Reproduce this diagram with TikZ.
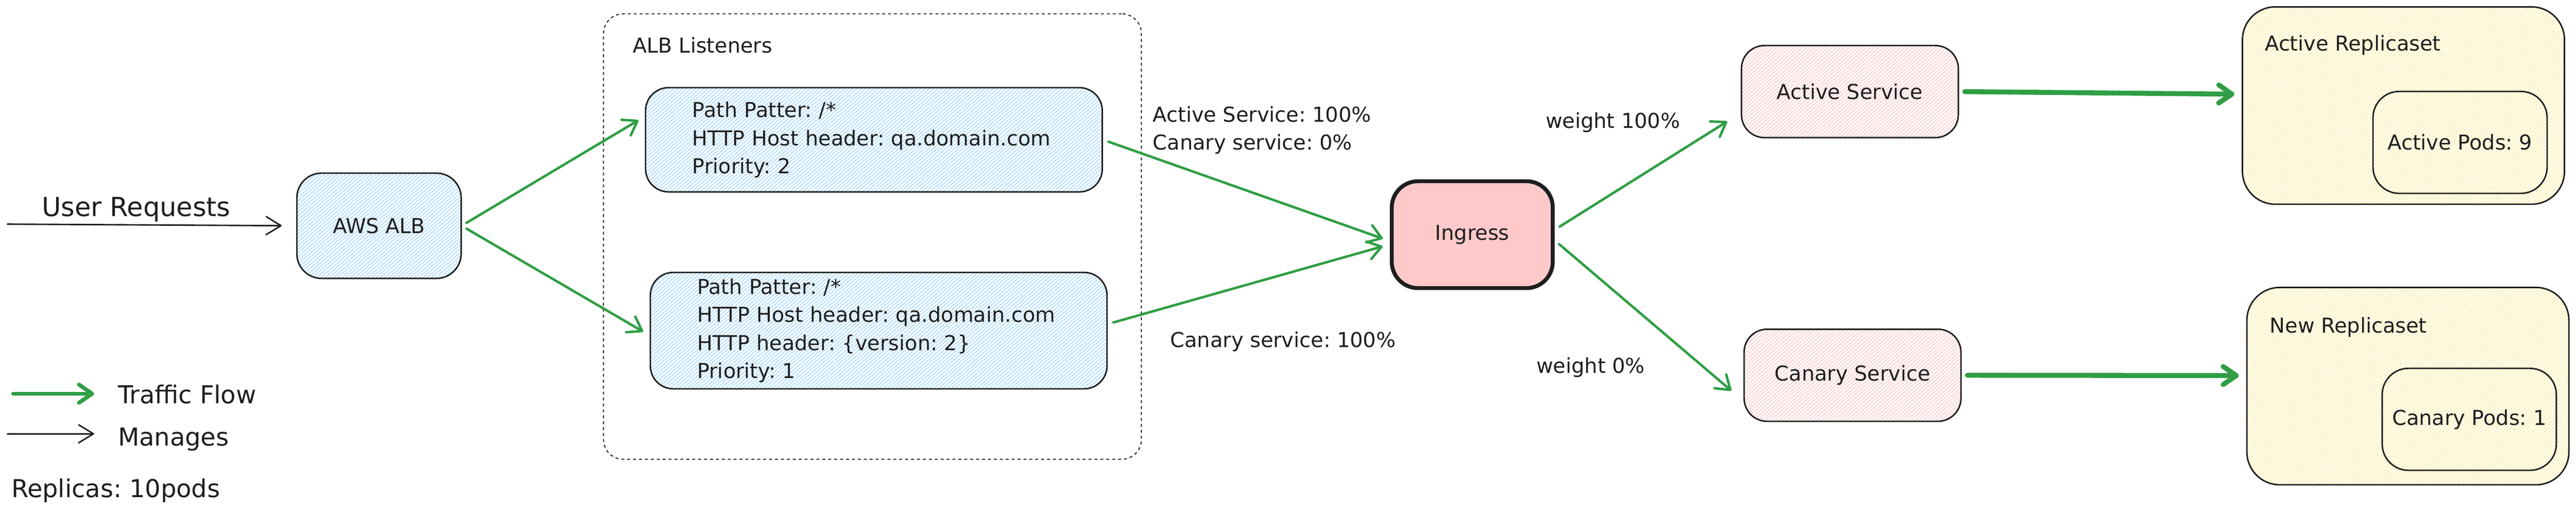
\documentclass[tikz,border=0pt]{standalone}
\usepackage{fontspec}
\setmainfont{DejaVu Sans}
\usepackage{tikz}
\usetikzlibrary{positioning, arrows.meta, patterns.meta}
\frenchspacing
\definecolor{flowgreen}{HTML}{2F9E44}
\definecolor{inkblack}{HTML}{1E1E1E}
\definecolor{hatchblue}{HTML}{A5D8FF}
\definecolor{hatchpink}{HTML}{FFC9C9}
\definecolor{hatchyellow}{HTML}{FFEC99}
\definecolor{ingressred}{HTML}{FFC9C9}
\tikzstyle{plain} = [inner sep=0pt, text=inkblack, font=\fontsize{12.5}{17}\selectfont]
\tikzstyle{legend} = [plain, font=\fontsize{15}{18}\selectfont]
\tikzstyle{big} = [plain, font=\fontsize{16}{19}\selectfont]
\tikzstyle{hatch} = [pattern={Lines[angle=41, distance=1.7pt, line width=0.5pt]}]
\tikzstyle{sketchbox} = [rectangle, draw=inkblack, line width=0.9pt, plain]
\tikzstyle{albbox} = [sketchbox, rounded corners=15pt, minimum width=100pt,
                      minimum height=64pt, hatch, pattern color=hatchblue]
\tikzstyle{listener} = [sketchbox, rounded corners=14pt, minimum width=278pt,
                        minimum height=63.4pt, text width=221pt, inner xsep=28.5pt,
                        align=left, hatch, pattern color=hatchblue]
\tikzstyle{ingressbox} = [sketchbox, rounded corners=16pt, minimum width=98pt,
                          minimum height=65pt, line width=2.4pt, fill=ingressred]
\tikzstyle{svc} = [sketchbox, rounded corners=14pt, minimum width=132pt,
                   minimum height=56pt, hatch, pattern color=hatchpink]
\tikzstyle{rset} = [sketchbox, rounded corners=20pt, minimum width=196pt,
                    minimum height=120pt, hatch, pattern color=hatchyellow]
\tikzstyle{pods} = [sketchbox, rounded corners=16pt, minimum width=106pt, minimum height=62pt]
\tikzstyle{frame} = [rectangle, draw=inkblack, line width=0.6pt, dash pattern=on 1.8pt off 1.8pt,
                     rounded corners=12pt, minimum width=327.4pt, minimum height=270.9pt]
\tikzstyle{flow} = [line width=1.5pt, draw=flowgreen, line cap=round, ->,
                    >={Straight Barb[length=8pt, width=11pt, round]},
                    shorten <=3.5pt, shorten >=4.5pt]
\tikzstyle{bigflow} = [flow, line width=3pt]
\tikzstyle{legendflow} = [flow, line width=2.4pt, shorten <=0pt]
\tikzstyle{manage} = [line width=0.9pt, draw=inkblack, line cap=round, ->,
                      >={Straight Barb[length=9pt, width=11pt, round]}]

\begin{document}
\begin{tikzpicture}[node distance=1cm]
\useasboundingbox (0,0) rectangle (1568pt,-309.25pt);
\node (alb) [albbox] at (230.7pt,-137.3pt) {AWS ALB};
\node (lst1) [listener, right of=alb, xshift=272.8pt, yshift=52.3pt] {Path Patter: /*\\HTTP Host header: qa.domain.com\\Priority: 2};
\node (lst2) [listener, minimum height=70.8pt, below of=lst1, xshift=2.9pt, yshift=-87.6pt] {Path Patter: /*\\HTTP Host header: qa.domain.com\\HTTP header: \{version: 2\}\\Priority: 1};
\node (lstframe) [frame, below of=lst1, xshift=-0.9pt, yshift=-30.4pt] {};
\node (lsttitle) [plain, anchor=west, xshift=18pt, yshift=-19.5pt] at (lstframe.north west) {ALB Listeners};
\node (ingress) [ingressbox, right of=alb, xshift=637pt, yshift=-5.4pt] {Ingress};
\node (actsvc) [svc, right of=ingress, xshift=201.4pt, yshift=87pt] {Active Service};
\node (cansvc) [svc, right of=ingress, xshift=203pt, yshift=-85.5pt] {Canary Service};
\node (actrs) [rset, right of=actsvc, xshift=308.5pt, yshift=-8.5pt] {};
\node (actrstitle) [plain, anchor=west, xshift=14pt, yshift=-23.6pt] at (actrs.north west) {Active Replicaset};
\node (actpods) [pods, right of=actrs, xshift=6pt, yshift=-22.4pt] {Active Pods: 9};
\node (newrs) [rset, right of=cansvc, xshift=309.6pt, yshift=-6.6pt] {};
\node (newrstitle) [plain, anchor=west, xshift=14.2pt, yshift=-24.7pt] at (newrs.north west) {New Replicaset};
\node (canpods) [pods, right of=newrs, xshift=8.9pt, yshift=-20.2pt] {Canary Pods: 1};

% legend
\node (tflbl) [legend, anchor=west] at (71.7pt,-239.7pt) {Traffic Flow};
\node (mglbl) [legend, anchor=west] at (71.7pt,-267.3pt) {Manages};
\node (replbl) [legend, anchor=west] at (6.7pt,-298.3pt) {Replicas: 10pods};
\coordinate (tf0) at (8pt,-239.4pt);
\coordinate (mg0) at (4.5pt,-263.8pt);
\coordinate (usr) at (4.5pt,-136.3pt);

\draw [manage, shorten >=9pt] (usr) -- node[big, pos=0.47, anchor=south, xshift=-4.3pt, yshift=1.5pt] {User Requests} (alb.west);
\draw [flow] (alb.east) -- ([yshift=14.2pt]lst1.west);
\draw [flow] (alb.east) -- ([yshift=-2.9pt]lst2.west);
\draw [flow] (lst1.east) -- node[plain, pos=0.17, anchor=south west, align=left, yshift=1pt] {Active Service: 100\%\\Canary service: 0\%} ([yshift=-3.9pt]ingress.west);
\draw [flow] ([yshift=4pt]lst2.east) -- node[plain, pos=0.2, anchor=north west, xshift=3pt, yshift=-13.7pt] {Canary service: 100\%} ([yshift=-5.9pt]ingress.west);
\draw [flow, shorten >=9.7pt] ([yshift=3pt]ingress.east) -- node[plain, pos=0.8, anchor=east, xshift=-13.5pt, yshift=8.4pt] {weight 100\%} ([yshift=-13pt]actsvc.west);
\draw [flow, shorten >=9.6pt] ([yshift=-3.5pt]ingress.east) -- node[plain, pos=0.75, anchor=east, xshift=-30.5pt, yshift=-3.9pt] {weight 0\%} ([yshift=-15.6pt]cansvc.west);
\draw [bigflow] (actsvc.east) -- ([yshift=6.9pt]actrs.west);
\draw [bigflow] (cansvc.east) -- ([yshift=6.4pt]newrs.west);
\draw [legendflow, shorten >=14.4pt] (tf0) -- (tf0 -| tflbl.west);
\draw [manage, shorten >=14.4pt] (mg0) -- (mg0 -| mglbl.west);
\end{tikzpicture}
\end{document}
